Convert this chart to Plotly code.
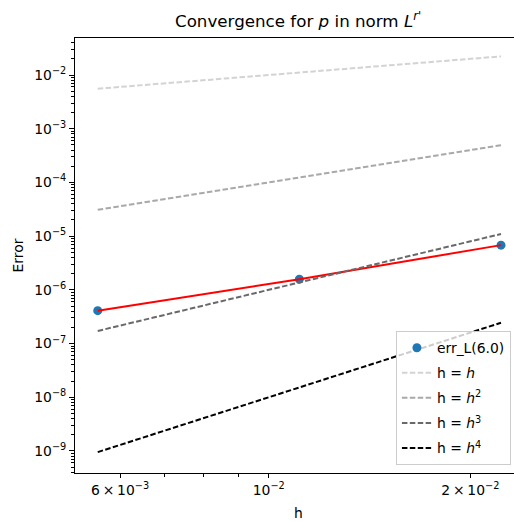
import plotly.graph_objects as go

# Mesh sizes and measured errors
h_values = [1 / 180, 1 / 90, 1 / 45]
err_values = [4.1e-7, 1.58e-6, 6.8e-6]

# Reference slopes h^k evaluated at the same mesh sizes
ref_h1 = [5.556e-3, 1.111e-2, 2.222e-2]
ref_h2 = [3.086e-5, 1.235e-4, 4.938e-4]
ref_h3 = [1.715e-7, 1.372e-6, 1.097e-5]
ref_h4 = [9.53e-10, 1.524e-8, 2.439e-7]

ref_series = [
    ("h = <i>h</i>", ref_h1, "#d3d3d3"),
    ("h = <i>h</i><sup>2</sup>", ref_h2, "#a9a9a9"),
    ("h = <i>h</i><sup>3</sup>", ref_h3, "#696969"),
    ("h = <i>h</i><sup>4</sup>", ref_h4, "#000000"),
]

y_major = [10.0 ** k for k in range(-9, -1)]
y_labels = [f"10<sup>\u2212{-k}</sup>" for k in range(-9, -1)]
y_minor = [m * 10.0 ** k for k in range(-10, -1) for m in range(2, 10)]

x_major = [6e-3, 1e-2, 2e-2]
x_labels = [
    "6\u2009\u00d7\u200910<sup>\u22123</sup>",
    "10<sup>\u22122</sup>",
    "2\u2009\u00d7\u200910<sup>\u22122</sup>",
]
x_minor = [7e-3, 8e-3, 9e-3]

FONT = "DejaVu Sans"
FS = 13.9
DASH = "5.5px,2.4px"

fig = go.Figure()

fig.add_trace(go.Scatter(
    x=h_values, y=err_values, mode="markers", name="err_L(6.0)",
    marker=dict(color="#1f77b4", size=9), legendgroup="a",
))
fig.add_trace(go.Scatter(
    x=h_values, y=err_values, mode="lines", showlegend=False,
    line=dict(color="red", width=2),
))
for i, (label, vals, col) in enumerate(ref_series):
    fig.add_trace(go.Scatter(
        x=h_values, y=vals, mode="lines", name=label,
        line=dict(color=col, width=2, dash=DASH), legendgroup=f"r{i}",
    ))

fig.update_layout(
    width=514, height=522,
    margin=dict(l=75, r=0, t=38, b=49),
    paper_bgcolor="white", plot_bgcolor="white",
    font=dict(family=FONT, size=FS, color="black"),
    showlegend=True,
    legend=dict(
        x=0.993, y=0.018, xanchor="right", yanchor="bottom",
        bgcolor="rgba(255,255,255,0.8)", bordercolor="#cccccc", borderwidth=1,
        font=dict(family=FONT, size=FS, color="black"),
        tracegroupgap=4, traceorder="grouped",
    ),
    xaxis=dict(
        type="log", range=[-2.2892, -1.6338],
        showgrid=False, zeroline=False,
        showline=True, linecolor="black", linewidth=1, mirror=True,
        ticks="outside", ticklen=4, tickwidth=1, tickcolor="black",
        tickvals=x_major, ticktext=x_labels,
        minor=dict(ticks="outside", ticklen=3, tickwidth=0.8, tickcolor="black",
                   tickvals=x_minor, showgrid=False),
    ),
    yaxis=dict(
        type="log", range=[-9.41, -1.311],
        showgrid=False, zeroline=False,
        showline=True, linecolor="black", linewidth=1, mirror=False,
        ticks="outside", ticklen=5, tickwidth=1, tickcolor="black",
        tickvals=y_major, ticktext=y_labels,
        minor=dict(ticks="outside", ticklen=3, tickwidth=0.8, tickcolor="black",
                   tickvals=y_minor, showgrid=False),
    ),
    annotations=[
        dict(text="Convergence for <i>p</i> in norm <i>L</i><sup><i>r'</i></sup>",
             xref="paper", yref="paper", x=0.508, y=1, xanchor="center",
             yanchor="bottom", yshift=5, showarrow=False,
             font=dict(family=FONT, size=16.7, color="black")),
        dict(text="h", xref="paper", yref="paper", x=0.508, y=0,
             xanchor="center", yanchor="middle", yshift=-40, showarrow=False,
             font=dict(family=FONT, size=FS, color="black")),
        dict(text="Error", xref="paper", yref="paper", x=0, y=0.5,
             xanchor="center", yanchor="middle", xshift=-58, textangle=-90,
             showarrow=False, font=dict(family=FONT, size=FS, color="black")),
    ],
)

fig.write_html("out.html")
